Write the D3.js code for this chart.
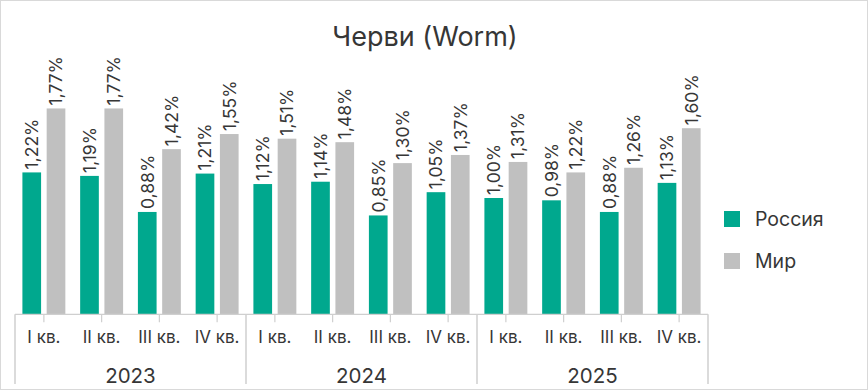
<!DOCTYPE html>
<html>
<head>
<meta charset="utf-8">
<script src="https://cdn.jsdelivr.net/npm/d3@7"></script>
<style>
  html, body { margin: 0; padding: 0; background: #fff; }
  svg { display: block; font-family: Inter, "Noto Sans", sans-serif; }
</style>
</head>
<body>
<svg id="chart" width="868" height="390"></svg>
<script>
const title = "Черви (Worm)";
const years = ["2023", "2024", "2025"];
const quarters = ["I кв.", "II кв.", "III кв.", "IV кв."];
const seriesNames = ["Россия", "Мир"];
const russia = [1.22, 1.19, 0.88, 1.21, 1.12, 1.14, 0.85, 1.05, 1.00, 0.98, 0.88, 1.13];
const world  = [1.77, 1.77, 1.42, 1.55, 1.51, 1.48, 1.30, 1.37, 1.31, 1.22, 1.26, 1.60];
const colors = ["#00a88e", "#c0c0c0"];

const categories = [];
years.forEach(y => quarters.forEach(q => categories.push({ id: y + " " + q, year: y, q })));
const seriesValues = [russia, world];

const svg = d3.select("#chart");
const W = 868, H = 390;
const textColor = "#363636";
const lineColor = "#cfcfcf";

// border
svg.append("rect").attr("x", 0.5).attr("y", 0.5).attr("width", W - 1).attr("height", H - 1)
  .attr("fill", "#fff").attr("stroke", "#d9d9d9");

// title
svg.append("text").attr("x", 425).attr("y", 46).attr("text-anchor", "middle")
  .attr("font-size", 27).attr("fill", textColor).text(title);

const x0 = 15, x1 = 708, baseY = 314.3;
const x = d3.scaleBand().domain(categories.map(d => d.id)).range([x0, x1]).padding(0);
const xs = d3.scaleBand().domain(seriesNames).range([0, x.bandwidth()])
  .paddingInner(0.23).paddingOuter(0.305);
const y = d3.scaleLinear().domain([0, 2]).range([baseY, baseY - 232.6]);

// bars
seriesNames.forEach((s, si) => {
  const g = svg.append("g");
  const data = categories.map((c, i) => ({ c, v: seriesValues[si][i] }));
  g.selectAll("rect").data(data).join("rect")
    .attr("x", d => x(d.c.id) + xs(s))
    .attr("y", d => y(d.v))
    .attr("width", xs.bandwidth())
    .attr("height", d => y(0) - y(d.v))
    .attr("fill", colors[si]);
  g.selectAll("text").data(data).join("text")
    .attr("transform", d => `translate(${x(d.c.id) + xs(s) + xs.bandwidth() / 2},${y(d.v) - 3}) rotate(-90)`)
    .attr("dy", "0.36em")
    .attr("text-anchor", "start")
    .attr("font-size", 17.5)
    .attr("fill", textColor)
    .text(d => d3.format(".2f")(d.v).replace(".", ",") + "%");
});

// axis baseline
svg.append("line").attr("x1", x0).attr("x2", x1).attr("y1", baseY).attr("y2", baseY)
  .attr("stroke", lineColor).attr("stroke-width", 1.2);

// small ticks at category centres
svg.append("g").selectAll("line").data(categories).join("line")
  .attr("x1", d => x(d.id) + x.bandwidth() / 2).attr("x2", d => x(d.id) + x.bandwidth() / 2)
  .attr("y1", baseY).attr("y2", baseY + 8)
  .attr("stroke", lineColor).attr("stroke-width", 1.2);

// group separators
const groupEdges = [x0].concat(years.map((yy, i) => x(categories[i * 4 + 3].id) + x.bandwidth()));
svg.append("g").selectAll("line").data(groupEdges).join("line")
  .attr("x1", d => d).attr("x2", d => d)
  .attr("y1", baseY).attr("y2", 384)
  .attr("stroke", lineColor).attr("stroke-width", 1.5);

// quarter labels
svg.append("g").selectAll("text").data(categories).join("text")
  .attr("x", d => x(d.id) + x.bandwidth() / 2).attr("y", 343)
  .attr("text-anchor", "middle").attr("font-size", 17).attr("fill", textColor)
  .text(d => d.q);

// year labels
svg.append("g").selectAll("text").data(years).join("text")
  .attr("x", (d, i) => (groupEdges[i] + groupEdges[i + 1]) / 2).attr("y", 383)
  .attr("text-anchor", "middle").attr("font-size", 20.5).attr("fill", textColor)
  .text(d => d);

// legend
const legend = svg.append("g");
seriesNames.forEach((s, i) => {
  const ly = 219 + i * 42;
  legend.append("rect").attr("x", 724).attr("y", ly - 8).attr("width", 16).attr("height", 16)
    .attr("fill", colors[i]);
  legend.append("text").attr("x", 755).attr("y", ly).attr("dy", "0.36em")
    .attr("font-size", 19.5).attr("fill", textColor).text(s);
});
</script>
</body>
</html>
